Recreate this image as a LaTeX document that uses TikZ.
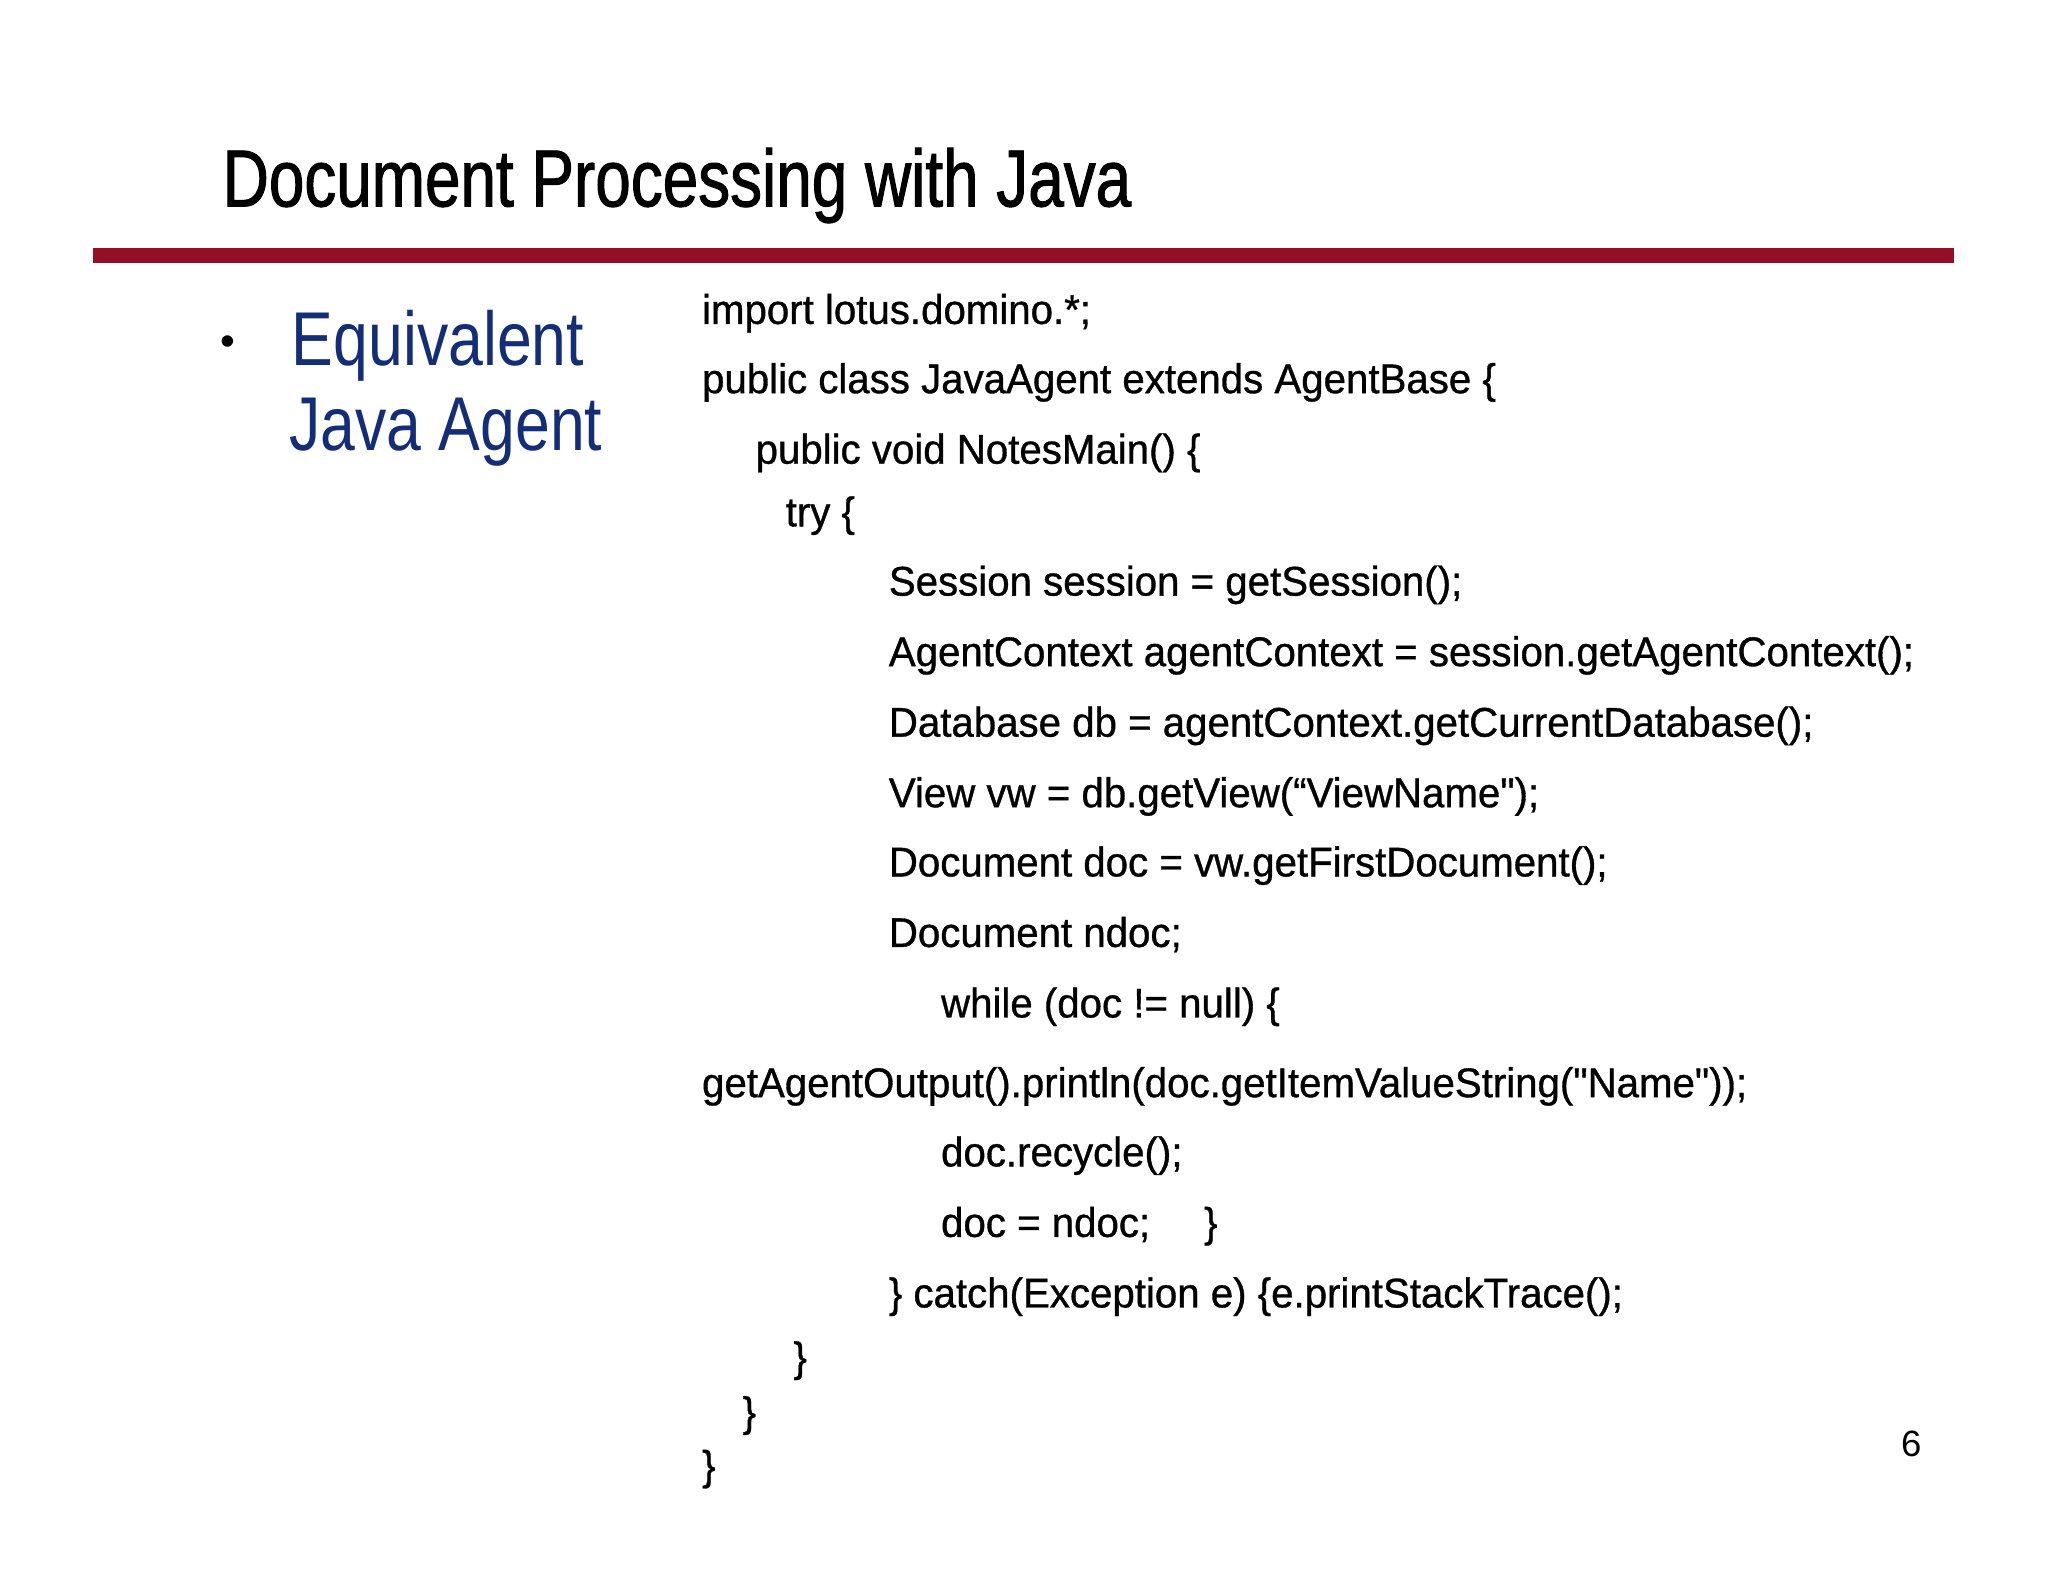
\documentclass[tikz,border=0pt]{standalone}
\usepackage{fontspec}
\setmainfont{Liberation Sans}
\newfontfamily\narrow[FakeStretch=0.82]{Liberation Sans}
\newfontfamily\titlefont[FakeStretch=0.79,FakeBold=1.2]{Liberation Sans}
\newfontfamily\codefont[FakeStretch=0.97,FakeBold=0.8]{Liberation Sans}
\definecolor{barred}{RGB}{148,14,40}
\definecolor{bulletblue}{RGB}{20,45,120}
\begin{document}
\begin{tikzpicture}[x=0.013061cm,y=-0.013061cm,
  code/.style={anchor=base west,inner sep=0pt,font=\codefont\fontsize{11.8}{13}\selectfont},
  ttl/.style={anchor=base west,inner sep=0pt,font=\titlefont\fontsize{23}{26}\selectfont},
  blt/.style={anchor=base west,inner sep=0pt,text=bulletblue,font=\narrow\fontsize{21.7}{24}\selectfont}]
\useasboundingbox (0,0) rectangle (1568,1211);
\fill[white] (0,0) rectangle (1568,1211);
\node[ttl] (title) at (170,158) {Document Processing with Java};
\fill[barred] (71,190) rectangle (1496,201);
\node[anchor=base west,inner sep=0pt,font=\fontsize{12}{14}\selectfont] (dot) at (168,272) {•};
\node[blt] (b1) at (223,280) {Equivalent};
\node[blt] (b2) at (221,345) {Java Agent};
\node[code] (l1) at (537,248) {import lotus.domino.*;};
\node[code] (l2) at (537,301) {public class JavaAgent extends AgentBase \{};
\node[code] (l3) at (578,355) {public void NotesMain() \{};
\node[code] (l4) at (601,403) {try \{};
\node[code] (l5) at (680,456) {Session session = getSession();};
\node[code] (l6) at (680,510) {AgentContext agentContext = session.getAgentContext();};
\node[code] (l7) at (680,564) {Database db = agentContext.getCurrentDatabase();};
\node[code] (l8) at (680,618) {View vw = db.getView(“ViewName");};
\node[code] (l9) at (680,671) {Document doc = vw.getFirstDocument();};
\node[code] (l10) at (680,725) {Document ndoc;};
\node[code] (l11) at (720,779) {while (doc != null) \{};
\node[code] (l12) at (537,840) {getAgentOutput().println(doc.getItemValueString("Name"));};
\node[code] (l13) at (720,893) {doc.recycle();};
\node[code] (l14) at (720,947) {doc = ndoc;\hspace{1.3em}\}};
\node[code] (l15) at (680,1001) {\} catch(Exception e) \{e.printStackTrace();};
\node[code] (l16) at (607,1050) {\}};
\node[code] (l17) at (568,1092) {\}};
\node[code] (l18) at (537,1133) {\}};
\node[anchor=base west,inner sep=0pt,font=\fontsize{10.4}{12}\selectfont] (pg) at (1455,1115) {6};
\end{tikzpicture}
\end{document}
